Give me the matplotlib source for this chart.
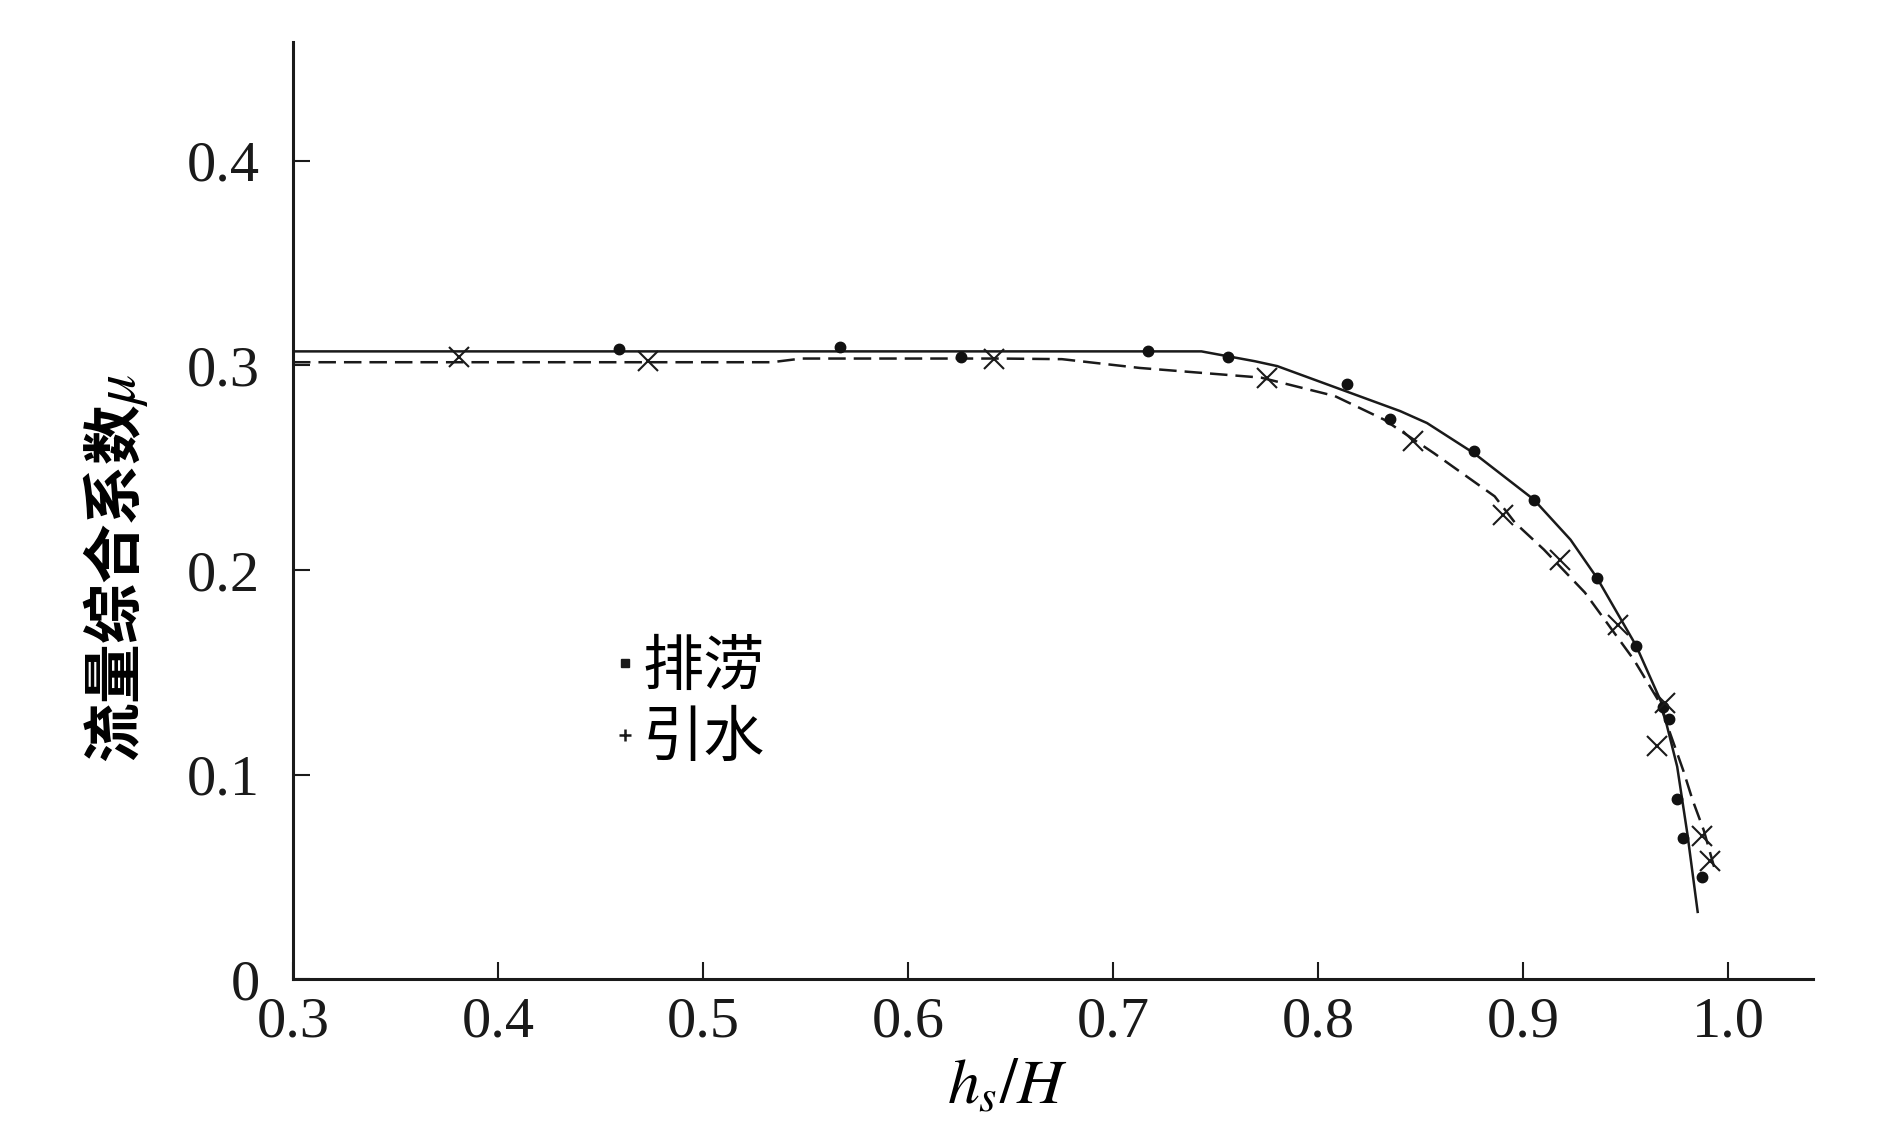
import matplotlib
matplotlib.use("Agg")
import matplotlib.pyplot as plt
from matplotlib.lines import Line2D

plt.rcParams['mathtext.fontset'] = 'stix'
plt.rcParams['font.family'] = ['Liberation Serif', 'DejaVu Serif']

# ---- data ----
# 排涝 (drainage) measured points
pl_x = [0.459, 0.567, 0.626, 0.717, 0.756, 0.814, 0.835, 0.876, 0.905, 0.936,
        0.955, 0.968, 0.971, 0.975, 0.978, 0.987]
pl_y = [0.308, 0.309, 0.304, 0.307, 0.304, 0.291, 0.274, 0.258, 0.234, 0.196,
        0.163, 0.133, 0.127, 0.088, 0.069, 0.050]
# 排涝 fitted curve
pl_fit_x = [0.300, 0.743, 0.769, 0.780, 0.840, 0.853, 0.876, 0.905, 0.923, 0.936,
            0.955, 0.967, 0.975, 0.980, 0.985]
pl_fit_y = [0.3068, 0.3068, 0.302, 0.2996, 0.2776, 0.2718, 0.257, 0.2345, 0.2148, 0.196,
            0.163, 0.136, 0.104, 0.071, 0.033]

# 引水 (diversion) measured points
ys_x = [0.381, 0.473, 0.642, 0.775, 0.846, 0.890, 0.918, 0.946, 0.969, 0.965,
        0.987, 0.991]
ys_y = [0.304, 0.302, 0.303, 0.294, 0.263, 0.227, 0.205, 0.173, 0.135, 0.114,
        0.070, 0.058]
# 引水 fitted curve
ys_fit_x = [0.300, 0.5335, 0.548, 0.645, 0.675, 0.713, 0.772, 0.808, 0.832, 0.8565,
            0.886, 0.896, 0.910, 0.930, 0.954, 0.966, 0.978, 0.9826, 0.988, 0.993]
ys_fit_y = [0.3015, 0.3015, 0.3033, 0.3033, 0.3030, 0.2987, 0.294, 0.285, 0.2735, 0.257,
            0.236, 0.223, 0.210, 0.189, 0.156, 0.136, 0.102, 0.0874, 0.0728, 0.055]

x_ticks = [0.3, 0.4, 0.5, 0.6, 0.7, 0.8, 0.9, 1.0]
x_ticklabels = ['0.3', '0.4', '0.5', '0.6', '0.7', '0.8', '0.9', '1.0']
y_ticks = [0.0, 0.1, 0.2, 0.3, 0.4]
y_ticklabels = ['0', '0.1', '0.2', '0.3', '0.4']

labels = ['排涝', '引水']

fig = plt.figure(figsize=(18.9, 11.31), dpi=100)
ax = fig.add_axes([0.155, 0.134, 0.804, 0.829])

ax.plot(pl_fit_x, pl_fit_y, color='#1a1a1a', lw=1.8, solid_joinstyle='round')
ax.plot(ys_fit_x, ys_fit_y, color='#1a1a1a', lw=1.8, dashes=(7, 3.2))
ax.plot(pl_x, pl_y, linestyle='none', marker='o', ms=7.5, color='#111111')
ax.plot(ys_x, ys_y, linestyle='none', marker='x', ms=15, mew=1.5, color='#1a1a1a')

ax.set_xlim(0.3, 1.041)
ax.set_ylim(0.0, 0.458)
ax.set_xticks(x_ticks)
ax.set_xticklabels(x_ticklabels)
ax.set_yticks(y_ticks)
ax.set_yticklabels(y_ticklabels)

for s in ['top', 'right']:
    ax.spines[s].set_visible(False)
for s in ['left', 'bottom']:
    ax.spines[s].set_linewidth(2.2)
    ax.spines[s].set_color('#1a1a1a')

ax.tick_params(axis='both', direction='in', length=12, width=1.5, colors='#1a1a1a',
               labelsize=42)
ax.tick_params(axis='x', pad=12)
ax.tick_params(axis='y', pad=24)

ax.set_xlabel(r'$h_s/H$', fontsize=46)
ax.xaxis.set_label_coords(0.47, -0.085)
ax.set_ylabel('流量综合系数' + r'$\mu$', fontsize=43,
              family=['Noto Sans CJK SC', 'DejaVu Sans'], fontweight='bold')
ax.yaxis.set_label_coords(-0.094, 0.438)

handles = [Line2D([], [], linestyle='none', marker='s', ms=6, color='#1a1a1a'),
           Line2D([], [], linestyle='none', marker='+', ms=9, mew=1.8, color='#1a1a1a')]
leg = ax.legend(handles, labels, loc='upper left', bbox_to_anchor=(0.174, 0.425),
                frameon=False, handlelength=0.4, handletextpad=0.1, labelspacing=0.15,
                prop={'family': ['Noto Sans CJK SC', 'DejaVu Sans'], 'size': 44})

fig.savefig('out.png', dpi=100)
